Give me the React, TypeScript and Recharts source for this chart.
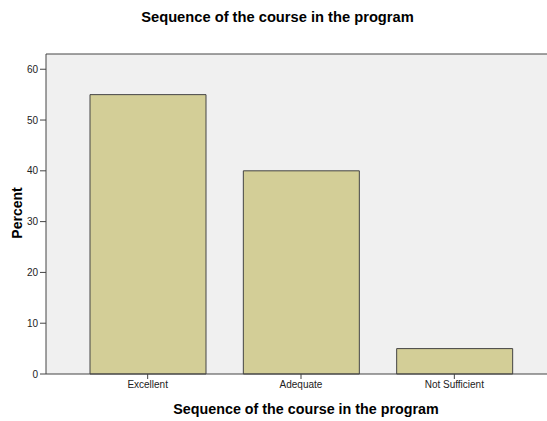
import React from "react";
import {
  Bar,
  BarChart,
  CartesianGrid,
  ReferenceLine,
  XAxis,
  YAxis,
} from "recharts";

const categories = ["Excellent", "Adequate", "Not Sufficient"];
const percentValues = [55, 40, 5];
const yTicks = [0, 10, 20, 30, 40, 50, 60];

const chartData = categories.map((name, i) => ({
  name,
  percent: percentValues[i],
}));

const FONT = "Arial, 'Liberation Sans', sans-serif";

const App: React.FC = () => {
  return (
    <div
      style={{
        position: "absolute",
        left: 0,
        top: 0,
        width: 547,
        height: 421,
        background: "#fff",
        fontFamily: FONT,
      }}
    >
      <div
        style={{
          position: "absolute",
          top: 9,
          left: 4,
          width: 547,
          textAlign: "center",
          fontWeight: "bold",
          fontSize: 14.7,
          color: "#000",
        }}
      >
        Sequence of the course in the program
      </div>
      <BarChart
        width={547}
        height={421}
        data={chartData}
        margin={{ top: 54, right: 0, left: 0, bottom: 27 }}
      >
        <CartesianGrid
          fill="#F0F0F0"
          horizontal={false}
          vertical={false}
        />
        <ReferenceLine y={63} stroke="#444" ifOverflow="visible" />
        <XAxis
          dataKey="name"
          height={20}
          padding={{ left: 25, right: 16 }}
          tickSize={5}
          axisLine={{ stroke: "#444" }}
          tickLine={{ stroke: "#444" }}
          tick={{ fontSize: 10, fill: "#222", fontFamily: FONT }}
          label={{
            content: () => (
              <text
                x={306}
                y={414}
                textAnchor="middle"
                fontWeight="bold"
                fontSize={14.3}
                fontFamily={FONT}
                fill="#000"
              >
                Sequence of the course in the program
              </text>
            ),
          }}
        />
        <YAxis
          width={46}
          domain={[0, 63]}
          ticks={yTicks}
          tickSize={6}
          axisLine={{ stroke: "#444" }}
          tickLine={{ stroke: "#444" }}
          tick={{ fontSize: 10, fill: "#222", fontFamily: FONT }}
          label={{
            content: () => (
              <text
                x={22}
                y={213}
                textAnchor="middle"
                transform="rotate(-90 22 213)"
                fontWeight="bold"
                fontSize={14}
                fontFamily={FONT}
                fill="#000"
              >
                Percent
              </text>
            ),
          }}
        />
        <Bar
          dataKey="percent"
          fill="#D3CE97"
          stroke="#444"
          strokeWidth={1}
          barSize={116}
          isAnimationActive={false}
        />
      </BarChart>
    </div>
  );
};

export default App;
